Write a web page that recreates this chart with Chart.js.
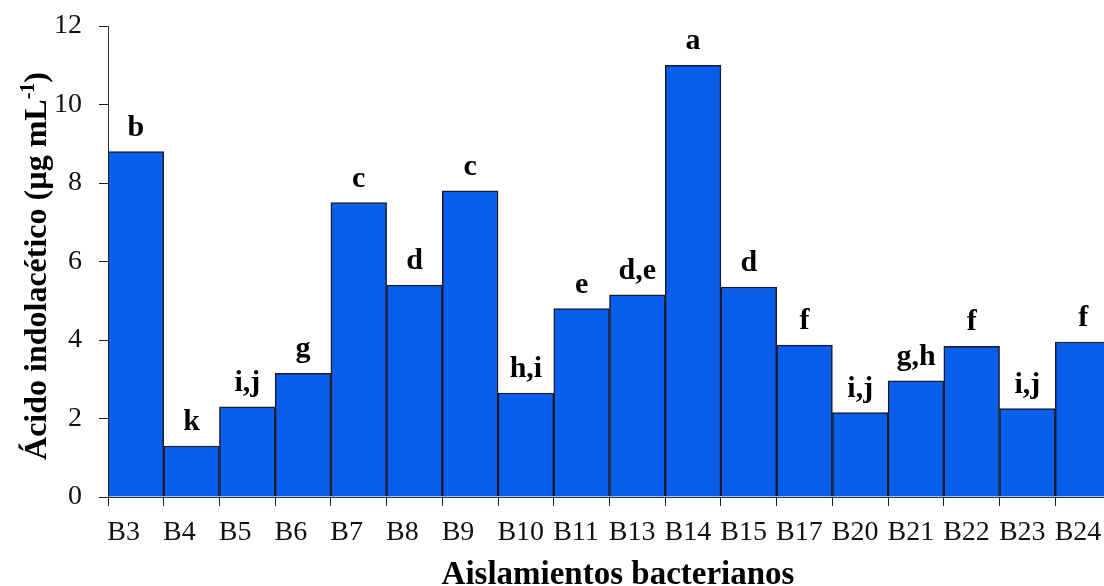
<!DOCTYPE html>
<html lang="es">
<head>
<meta charset="utf-8">
<title>Ácido indolacético por aislamiento</title>
<script src="https://cdn.jsdelivr.net/npm/chart.js@4.4.1/dist/chart.umd.min.js"></script>
<style>
  html, body { margin: 0; padding: 0; background: #ffffff; overflow: hidden; }
  #wrap { width: 1120px; height: 586px; }
  canvas { display: block; }
</style>
</head>
<body>
<div id="wrap"><canvas id="c" width="1120" height="586"></canvas></div>
<script>
// Bacterial isolates
const isolates = ['B3','B4','B5','B6','B7','B8','B9','B10','B11','B13','B14','B15','B17','B20','B21','B22','B23','B24'];
// Indole-acetic acid produced (µg mL-1)
const iaaValues = [8.8, 1.3, 2.3, 3.15, 7.5, 5.4, 7.8, 2.65, 4.8, 5.15, 11.0, 5.35, 3.87, 2.15, 2.96, 3.84, 2.25, 3.95];
// Mean-separation letters
const groupLetters = ['b','k','i,j','g','c','d','c','h,i','e','d,e','a','d','f','i,j','g,h','f','i,j','f'];
// Y axis ticks
const yTicks = [0, 2, 4, 6, 8, 10, 12];

const SERIF = '"Liberation Serif", "Times New Roman", serif';

// Letters above each bar
const letterPlugin = {
  id: 'letters',
  afterDatasetsDraw(chart) {
    const ctx = chart.ctx;
    const meta = chart.getDatasetMeta(0);
    ctx.save();
    ctx.fillStyle = '#000';
    ctx.font = 'bold 30px ' + SERIF;
    ctx.textAlign = 'center';
    ctx.textBaseline = 'alphabetic';
    meta.data.forEach((bar, i) => {
      ctx.fillText(groupLetters[i], bar.x, bar.y - 16);
    });
    ctx.restore();
  }
};

// Axis titles (the y title carries a superscript)
const titlePlugin = {
  id: 'axisTitles',
  afterDraw(chart) {
    const ctx = chart.ctx;
    ctx.save();
    ctx.fillStyle = '#000';

    // x title
    ctx.font = 'bold 33px ' + SERIF;
    ctx.textAlign = 'center';
    ctx.textBaseline = 'alphabetic';
    ctx.fillText('Aislamientos bacterianos', 618, 584);

    // y title, rotated
    const main = 'Ácido indolacético (µg mL';
    const sup = '-1';
    const tail = ')';
    const bigFont = 'bold 32px ' + SERIF;
    const supFont = 'bold 20px ' + SERIF;
    ctx.font = bigFont;
    const wMain = ctx.measureText(main).width;
    const wTail = ctx.measureText(tail).width;
    ctx.font = supFont;
    const wSup = ctx.measureText(sup).width;
    const total = wMain + wSup + wTail;
    ctx.translate(46, 266);
    ctx.rotate(-Math.PI / 2);
    ctx.textAlign = 'left';
    let x = -total / 2;
    ctx.font = bigFont;
    ctx.fillText(main, x, 0);
    x += wMain;
    ctx.font = supFont;
    ctx.fillText(sup, x, -12);
    x += wSup;
    ctx.font = bigFont;
    ctx.fillText(tail, x, 0);
    ctx.restore();
  }
};

new Chart(document.getElementById('c'), {
  type: 'bar',
  data: {
    labels: isolates,
    datasets: [{
      data: iaaValues,
      backgroundColor: '#0a5fea',
      borderColor: '#1a1a2a',
      borderWidth: 1.5,
      borderSkipped: 'start',
      barPercentage: 1.0,
      categoryPercentage: 1.0
    }]
  },
  options: {
    responsive: false,
    animation: false,
    devicePixelRatio: 1,
    layout: { padding: { top: 26, right: 9, left: 0, bottom: 0 } },
    plugins: {
      legend: { display: false },
      tooltip: { enabled: false }
    },
    scales: {
      x: {
        offset: true,
        grid: {
          display: true,
          offset: true,
          drawOnChartArea: false,
          drawTicks: true,
          tickLength: 9,
          color: '#222'
        },
        border: { display: true, color: '#333', width: 1 },
        ticks: {
          color: '#111',
          font: { family: SERIF, size: 28 },
          padding: 10,
          align: 'start',
          labelOffset: -28.5,
          maxRotation: 0,
          minRotation: 0,
          autoSkip: false
        },
        afterFit(scale) {
          scale.height = 89;
          scale.paddingLeft = 0;
          scale.paddingRight = 0;
        }
      },
      y: {
        min: 0,
        max: 12,
        afterBuildTicks(scale) { scale.ticks = yTicks.map(v => ({ value: v })); },
        grid: {
          display: true,
          drawOnChartArea: false,
          drawTicks: true,
          tickLength: 9,
          color: '#222'
        },
        border: { display: true, color: '#333', width: 1 },
        ticks: {
          color: '#111',
          font: { family: SERIF, size: 28 },
          padding: 17
        },
        afterFit(scale) {
          scale.width = 108;
          scale.paddingTop = 0;
          scale.paddingBottom = 0;
        }
      }
    }
  },
  plugins: [letterPlugin, titlePlugin]
});
</script>
</body>
</html>
